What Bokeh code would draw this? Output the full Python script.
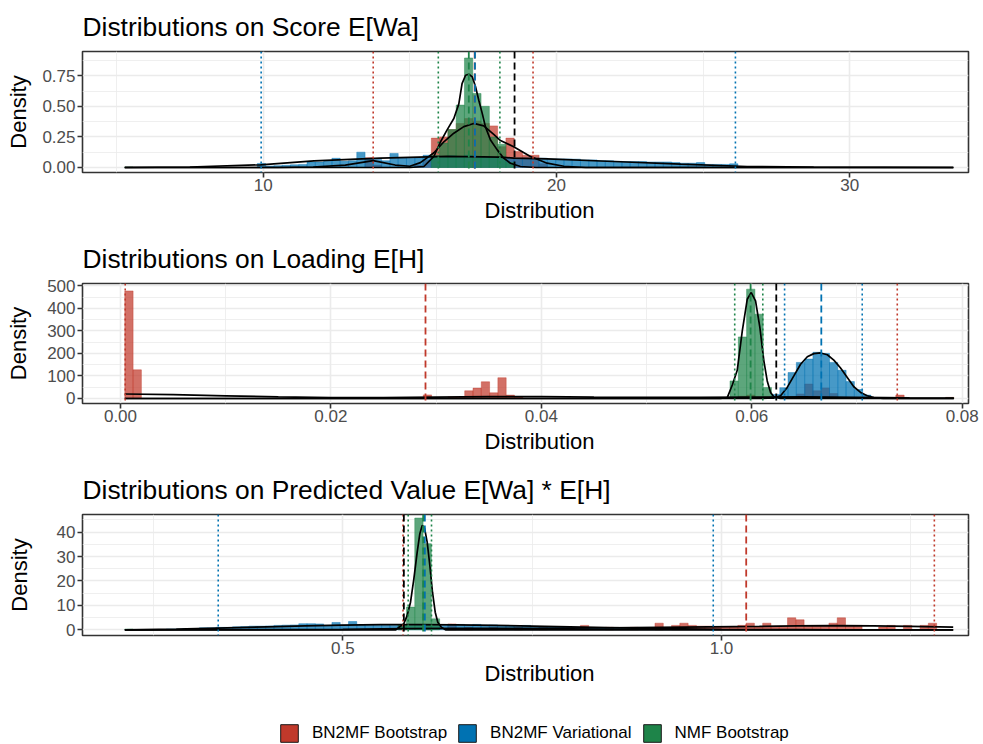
from bokeh.plotting import figure
from bokeh.models import (Range1d, FixedTicker, PrintfTickFormatter, Span, Legend, LegendItem,
                          Title)
from bokeh.layouts import column
from bokeh.embed import file_html
from bokeh.resources import INLINE

FONT = "Liberation Sans"
GROUPS = ["BN2MF Bootstrap", "BN2MF Variational", "NMF Bootstrap"]
COLORS = ["#C0392B", "#0072B2", "#1E8449"]

# ---------------- Score E[Wa] ----------------
score_bin_start = 5.28
score_bin_width = 0.2825
score_red_bins = [29, 30, 35, 36, 37, 38, 39, 40, 41, 42, 43, 44, 45, 46, 47, 48, 49, 50]
score_red_density = [0.08, 0.02, 0.02, 0.06, 0.24, 0.25, 0.31, 0.36, 0.40, 0.38, 0.36, 0.34,
                     0.17, 0.24, 0.13, 0.10, 0.10, 0.03]
score_blue_bins = list(range(16, 74))
score_blue_density = [0.033, 0.012, 0.015, 0.018, 0.022, 0.025, 0.045, 0.045, 0.05, 0.075,
                      0.05, 0.055, 0.125, 0.07, 0.065, 0.055, 0.115, 0.08, 0.075, 0.08,
                      0.1, 0.09, 0.09, 0.095, 0.09, 0.1, 0.09, 0.085, 0.08, 0.085,
                      0.076, 0.076, 0.076, 0.076, 0.076, 0.07, 0.07, 0.07, 0.068, 0.062,
                      0.062, 0.055, 0.055, 0.05, 0.048, 0.048, 0.048, 0.045, 0.045, 0.045,
                      0.04, 0.035, 0.035, 0.04, 0.025, 0.025, 0.025, 0.03]
score_green_bins = [0, 37, 38, 39, 40, 41, 42, 43, 44, 45, 46]
score_green_density = [0.004, 0.10, 0.20, 0.31, 0.51, 0.895, 0.605, 0.50, 0.25, 0.19, 0.04]

score_red_curve_x = [5.28, 10.5, 11.7, 12.8, 13.75, 14.5, 15.0, 15.36, 15.82, 16.16, 16.5, 16.84,
                     17.18, 17.52, 17.86, 18.09, 18.54, 19.11, 19.68, 20.25, 21.0, 33.53]
score_red_curve_y = [0.0, 0.0, 0.004, 0.02, 0.056, 0.02, 0.01, 0.04, 0.12, 0.21, 0.28, 0.334,
                     0.36, 0.34, 0.27, 0.22, 0.17, 0.09, 0.035, 0.01, 0.0, 0.0]
score_blue_curve_x = [5.28, 7.5, 9.91, 11.73, 14.0, 16.27, 18.09, 18.54, 19.68, 21.95, 24.23,
                      26.5, 28.77, 33.53]
score_blue_curve_y = [0.0, 0.004, 0.022, 0.054, 0.076, 0.09, 0.085, 0.076, 0.07, 0.049, 0.027,
                      0.008, 0.003, 0.0]
score_green_curve_x = [5.28, 15.0, 15.48, 15.82, 16.02, 16.27, 16.5, 16.67, 16.78, 16.9, 17.01,
                       17.13, 17.24, 17.35, 17.47, 17.58, 17.75, 17.98, 18.2, 18.43, 18.77,
                       19.3, 33.53]
score_green_curve_y = [0.0, 0.0, 0.008, 0.09, 0.198, 0.307, 0.40, 0.52, 0.686, 0.754, 0.762,
                       0.74, 0.66, 0.55, 0.44, 0.33, 0.225, 0.144, 0.076, 0.035, 0.008,
                       0.0, 0.0]
# (2.5% quantile, mean, 97.5% quantile) per method
score_stats = [(13.75, 17.21, 19.2), (9.93, 17.22, 26.1), (15.97, 17.01, 18.07)]
score_truth = 18.57

# ---------------- Loading E[H] ----------------
loading_bin_start = 0.00041
loading_bin_width = 0.000788
loading_red_bins = [0, 1, 20, 21, 25, 27, 36, 39, 40, 41, 42, 43, 44, 45, 46, 47, 74, 75, 76,
                    81, 82, 83, 84, 85, 93, 99]
loading_red_density = [477, 127, 3, 2, 3, 2, 16, 7, 7, 34, 46, 74, 25, 92, 15, 7, 10, 15, 5,
                       20, 64, 34, 47, 22, 15, 5]
loading_blue_bins = list(range(78, 90))
loading_blue_density = [18, 48, 115, 160, 175, 205, 200, 160, 125, 75, 40, 15]
loading_green_bins = [73, 74, 75, 76, 77, 99]
loading_green_density = [78, 273, 485, 374, 49, 3]

loading_red_curve_x = [0.00041, 0.005, 0.01, 0.015, 0.02, 0.025, 0.03, 0.035, 0.04, 0.045,
                       0.05, 0.055, 0.06, 0.065, 0.07, 0.075, 0.0792]
loading_red_curve_y = [20, 17, 12, 7, 4, 4, 6, 8, 8, 6, 5, 5, 6, 7, 5, 3, 2]
loading_blue_curve_x = [0.00041, 0.0605, 0.0615, 0.0621, 0.06274, 0.06337, 0.064, 0.06464,
                        0.06528, 0.0659, 0.06654, 0.06718, 0.0678, 0.06844, 0.06908, 0.0697,
                        0.07034, 0.07098, 0.0716, 0.0725, 0.0792]
loading_blue_curve_y = [0, 0, 1, 2, 12, 49, 100, 152, 185, 199, 202, 194, 170, 135, 93, 52,
                        27, 12, 4, 0, 0]
loading_green_curve_x = [0.00041, 0.057, 0.05767, 0.05815, 0.05862, 0.0591, 0.05957, 0.05995,
                         0.06036, 0.06077, 0.06115, 0.06147, 0.06179, 0.0621, 0.0627, 0.0792]
loading_green_curve_y = [0, 0, 4, 60, 125, 300, 440, 470, 433, 315, 167, 78, 27, 8, 0, 0]
loading_stats = [(0.00045, 0.02899, 0.07383), (0.06312, 0.06661, 0.0705),
                 (0.05838, 0.05989, 0.06105)]
loading_truth = 0.06233

# ---------------- Predicted value E[Wa] * E[H] ----------------
pred_bin_start = 0.2122
pred_bin_width = 0.010937
pred_red_bins = [33, 36, 39, 41, 44, 47, 50, 55, 58, 61, 64, 66, 67, 68, 69, 70, 71, 72, 73, 74,
                 75, 76, 77, 78, 79, 80, 81, 82, 83, 84, 85, 86, 87, 88, 91, 92, 94, 96, 97]
pred_red_density = [1.5, 2.0, 2.4, 1.0, 1.0, 1.0, 1.0, 1.8, 1.0, 1.0, 2.7, 1.8, 2.7, 1.8, 1.5,
                    1.5, 1.1, 1.1, 1.1, 1.8, 2.7, 1.1, 2.7, 1.5, 1.5, 4.9, 4.1, 1.8, 1.8, 1.8,
                    2.7, 4.9, 1.8, 1.8, 1.1, 1.8, 1.8, 1.8, 2.7]
pred_blue_bins = list(range(5, 72))
pred_blue_density = [0.3, 0.3, 0.5, 0.5, 0.8, 0.8, 1.0, 1.0, 1.2, 1.3, 1.5, 1.5, 1.6, 1.8, 1.9,
                     2.0, 2.5, 2.5, 2.4, 1.8, 3.0, 2.0, 3.4, 2.1, 1.9, 1.9, 1.9, 1.8, 1.8, 1.7,
                     1.9, 2.0, 1.6, 1.8, 2.0, 2.2, 2.0, 2.2, 1.9, 2.0, 1.7, 1.6, 1.5, 1.8, 1.4,
                     1.3, 1.2, 1.1, 1.0, 0.9, 0.9, 0.8, 0.7, 0.6, 0.6, 0.5, 0.5, 0.4, 0.4, 0.3,
                     0.3, 0.2, 0.2, 0.2, 0.1, 0.1, 0.1]
pred_green_bins = [0, 33, 34, 35, 36, 37]
pred_green_density = [0.3, 2.0, 9.3, 45.8, 35.3, 4.5]

pred_red_curve_x = [0.2122, 0.3, 0.4, 0.5, 0.58, 0.65, 0.75, 0.85, 0.95, 1.05, 1.1, 1.15, 1.2,
                    1.25, 1.3059]
pred_red_curve_y = [0.0, 0.02, 0.05, 0.2, 0.45, 0.6, 0.6, 0.8, 1.1, 1.4, 1.6, 1.7, 1.6, 1.4, 1.1]
pred_blue_curve_x = [0.2122, 0.28, 0.335, 0.4, 0.45, 0.5, 0.55, 0.6, 0.65, 0.7, 0.75, 0.8, 0.85,
                     0.9, 0.95, 1.0, 1.05, 1.1, 1.15, 1.3059]
pred_blue_curve_y = [0.0, 0.3, 0.7, 1.2, 1.6, 1.9, 2.1, 2.1, 2.0, 1.8, 1.5, 1.2, 0.9, 0.6, 0.4,
                     0.2, 0.1, 0.03, 0.0, 0.0]
pred_green_curve_x = [0.2122, 0.57, 0.5806, 0.585, 0.5894, 0.5938, 0.5982, 0.6017, 0.6048,
                      0.6079, 0.6114, 0.6149, 0.6184, 0.622, 0.6254, 0.6299, 0.6356, 1.3059]
pred_green_curve_y = [0.0, 0.0, 2.5, 5.9, 11.3, 20.9, 31.8, 39.4, 42.8, 41.7, 35.9, 26.4, 15.4,
                      7.2, 3.1, 1.1, 0.0, 0.0]
pred_stats = [(0.5795, 1.0326, 1.281), (0.3355, 0.6083, 0.9891), (0.5863, 0.6061, 0.6171)]
pred_truth = 0.5806

DOTTED = "2 3"
DASHED = "7 4"


def make_panel(title, x_range, y_range, x_ticks, x_minor, y_ticks, y_minor, x_fmt, y_fmt,
               bin_start, bin_width, hists, curves, stats, truth,
               height, border_top, border_bottom, ylabel_standoff):
    p = figure(width=983, height=height,
               x_range=Range1d(*x_range), y_range=Range1d(*y_range),
               toolbar_location=None, output_backend="svg",
               min_border_left=82, min_border_right=15,
               min_border_top=border_top, min_border_bottom=border_bottom)
    p.background_fill_color = "white"
    p.outline_line_color = "#333333"
    p.outline_line_width = 1.6

    p.title.text = title
    p.title.text_font = FONT
    p.title.text_font_size = "26.4px"
    p.title.text_font_style = "normal"
    p.title.text_color = "black"
    p.title.standoff = 19

    p.xaxis.ticker = FixedTicker(ticks=x_ticks, minor_ticks=x_minor)
    p.yaxis.ticker = FixedTicker(ticks=y_ticks, minor_ticks=y_minor)
    p.xaxis.formatter = PrintfTickFormatter(format=x_fmt)
    p.yaxis.formatter = PrintfTickFormatter(format=y_fmt)
    p.yaxis.axis_label = "Density"
    for ax in (p.xaxis[0], p.yaxis[0]):
        ax.axis_line_color = None
        ax.major_tick_line_color = "#333333"
        ax.major_tick_line_width = 1.6
        ax.major_tick_out = 5
        ax.major_tick_in = 0
        ax.minor_tick_line_color = None
        ax.major_label_text_font = FONT
        ax.major_label_text_font_size = "17px"
        ax.major_label_text_color = "#4D4D4D"
        ax.axis_label_text_font = FONT
        ax.axis_label_text_font_size = "22px"
        ax.axis_label_text_font_style = "normal"
        ax.axis_label_text_color = "black"
    p.xaxis.major_label_standoff = 1
    p.yaxis.major_label_standoff = 2
    p.yaxis.axis_label_standoff = ylabel_standoff

    # x-axis title, placed a little right of the panel centre
    p.add_layout(Title(text="Distribution", align="left", offset=402,
                       text_font=FONT, text_font_size="22px", text_font_style="normal",
                       text_color="black", standoff=5), "below")

    for g in (p.xgrid[0], p.ygrid[0]):
        g.grid_line_color = "#EBEBEB"
        g.grid_line_width = 1.6
        g.minor_grid_line_color = "#EBEBEB"
        g.minor_grid_line_width = 0.8

    # histograms: one layer per method, later ones drawn on top
    for (bins, dens), color in zip(hists, COLORS):
        left = [bin_start + k * bin_width for k in bins]
        right = [bin_start + (k + 1) * bin_width for k in bins]
        p.quad(left=left, right=right, bottom=0, top=dens,
               fill_color=color, fill_alpha=0.72,
               line_color=color, line_alpha=0.6, line_width=0.7)

    # kernel density outlines
    for xs, ys in curves:
        p.line(xs, ys, line_color="black", line_width=1.7)

    # summary lines: dotted 95% interval, dashed mean
    for (lo, mean, hi), color in zip(stats, COLORS):
        for loc in (lo, hi):
            p.add_layout(Span(location=loc, dimension="height", line_color=color,
                              line_width=1.6, line_dash=DOTTED))
        p.add_layout(Span(location=mean, dimension="height", line_color=color,
                          line_width=1.8, line_dash=DASHED))
    p.add_layout(Span(location=truth, dimension="height", line_color="black",
                      line_width=1.8, line_dash=DASHED))
    return p


p1 = make_panel(
    "Distributions on Score E[Wa]", (3.839, 34.047), (-0.041, 0.948),
    [10, 20, 30], [5, 15, 25], [0, 0.25, 0.5, 0.75], [0.125, 0.375, 0.625, 0.875],
    "%d", "%.2f", score_bin_start, score_bin_width,
    [(score_red_bins, score_red_density), (score_blue_bins, score_blue_density),
     (score_green_bins, score_green_density)],
    [(score_red_curve_x, score_red_curve_y), (score_blue_curve_x, score_blue_curve_y),
     (score_green_curve_x, score_green_curve_y)],
    score_stats, score_truth, height=232, border_top=51, border_bottom=60, ylabel_standoff=8)

p2 = make_panel(
    "Distributions on Loading E[H]", (-0.00361, 0.0806), (-22.2, 510),
    [0, 0.02, 0.04, 0.06, 0.08], [0.01, 0.03, 0.05, 0.07],
    [0, 100, 200, 300, 400, 500], [50, 150, 250, 350, 450],
    "%.2f", "%d", loading_bin_start, loading_bin_width,
    [(loading_red_bins, loading_red_density), (loading_blue_bins, loading_blue_density),
     (loading_green_bins, loading_green_density)],
    [(loading_red_curve_x, loading_red_curve_y), (loading_blue_curve_x, loading_blue_curve_y),
     (loading_green_curve_x, loading_green_curve_y)],
    loading_stats, loading_truth, height=231, border_top=51, border_bottom=60,
    ylabel_standoff=13)

p3 = make_panel(
    "Distributions on Predicted Value E[Wa] * E[H]", (0.1563, 1.3261), (-2.34, 47.25),
    [0.5, 1.0], [0.25, 0.75, 1.25], [0, 10, 20, 30, 40], [5, 15, 25, 35, 45],
    "%.1f", "%d", pred_bin_start, pred_bin_width,
    [(pred_red_bins, pred_red_density), (pred_blue_bins, pred_blue_density),
     (pred_green_bins, pred_green_density)],
    [(pred_red_curve_x, pred_red_curve_y), (pred_blue_curve_x, pred_blue_curve_y),
     (pred_green_curve_x, pred_green_curve_y)],
    pred_stats, pred_truth, height=227, border_top=51, border_bottom=55, ylabel_standoff=22)

# shared legend strip; the key glyphs sit outside the visible range
leg = figure(width=983, height=54, x_range=Range1d(0, 1), y_range=Range1d(0, 1),
             toolbar_location=None, output_backend="svg",
             x_axis_location=None, y_axis_location=None,
             min_border_left=82, min_border_right=15, min_border_top=0, min_border_bottom=0)
leg.grid.visible = False
leg.outline_line_color = None
items = []
for name, color in zip(GROUPS, COLORS):
    r = leg.quad(left=[5], right=[6], top=[6], bottom=[5], fill_color=color, fill_alpha=1.0,
                 line_color="#1a1a1a", line_width=1)
    items.append(LegendItem(label=name, renderers=[r]))
legend = Legend(items=items, orientation="horizontal", location=(196, 0),
                padding=0, margin=0, spacing=9, glyph_width=22, glyph_height=22,
                label_standoff=12, label_height=22,
                label_text_font=FONT, label_text_font_size="17px",
                label_text_color="black",
                border_line_color=None, background_fill_alpha=0)
leg.add_layout(legend)

layout = column(p1, p2, p3, leg)
open("out.html", "w").write(file_html(layout, INLINE))
